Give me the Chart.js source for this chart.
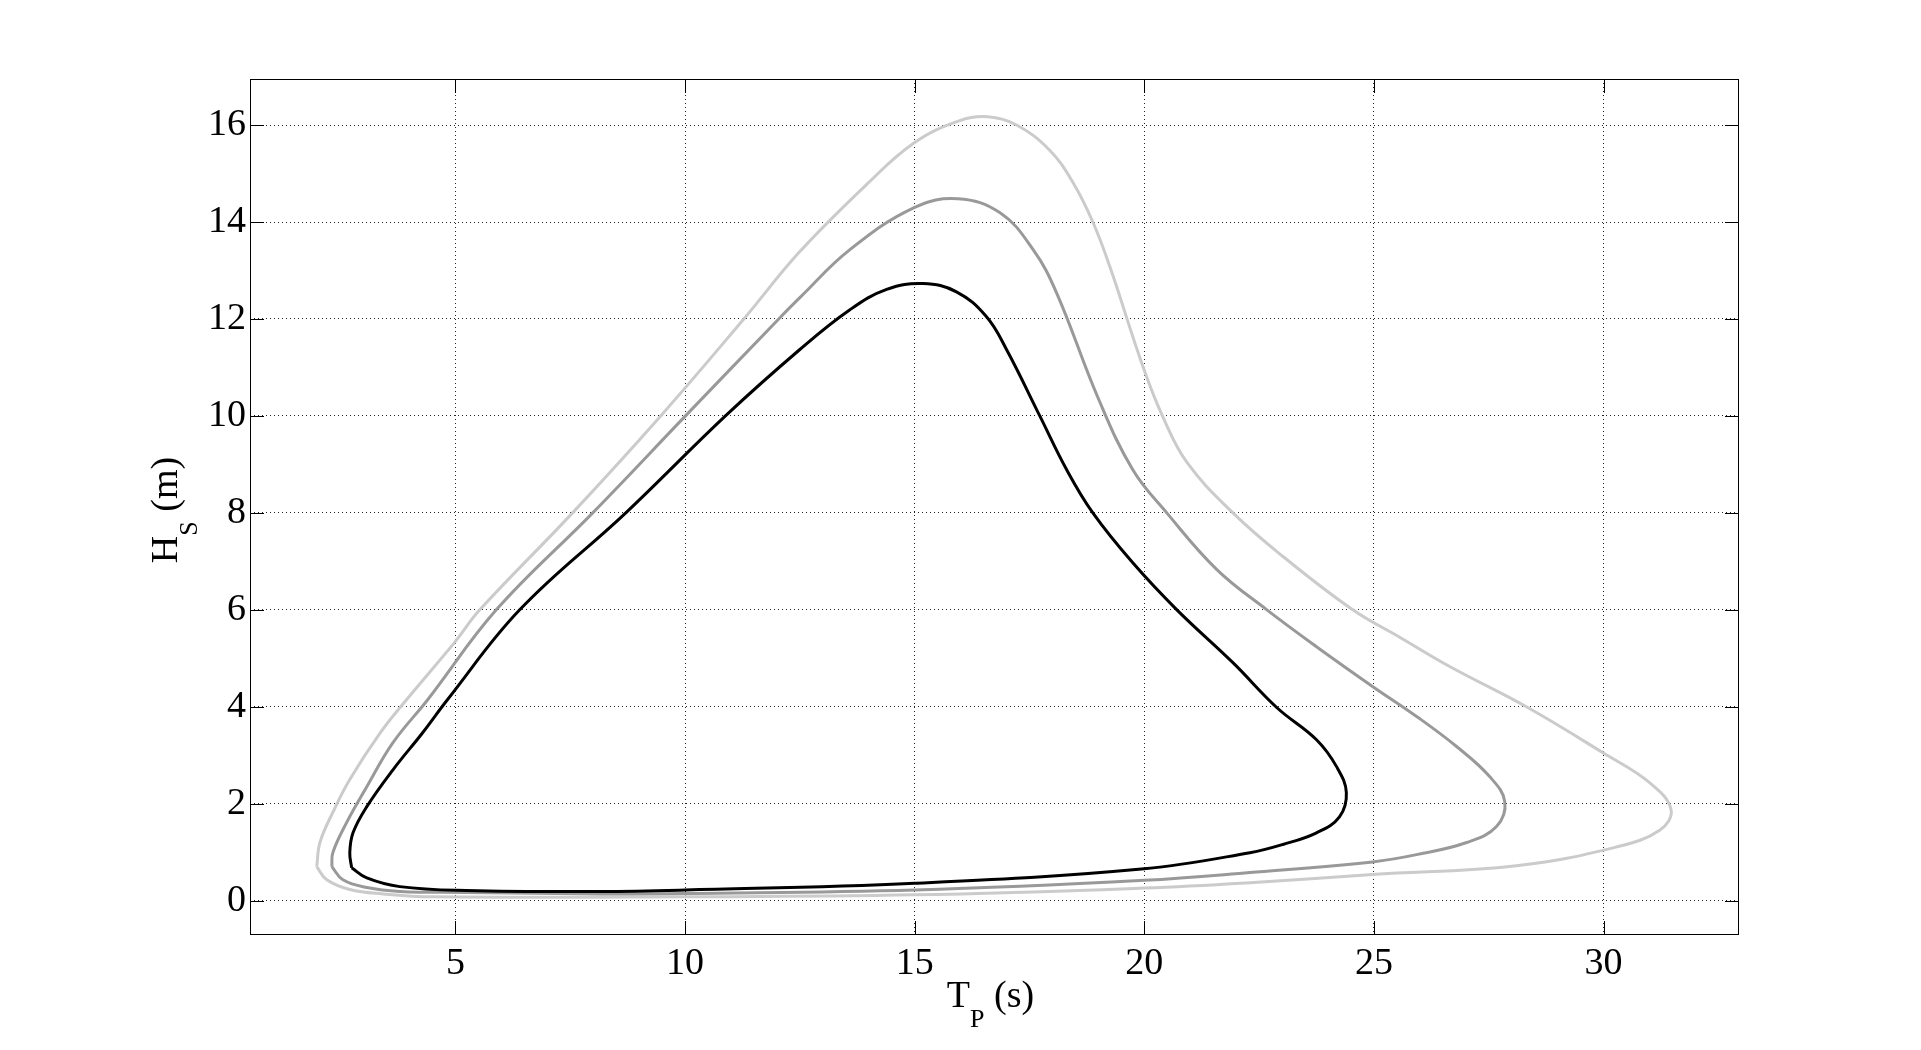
<!DOCTYPE html>
<html>
<head>
<meta charset="utf-8">
<title>Hs - Tp contours</title>
<script src="https://cdn.jsdelivr.net/npm/chart.js@4.4.0/dist/chart.umd.min.js"></script>
<style>
    html, body { margin: 0; padding: 0; background: #fff; overflow: hidden; }
    #wrap { position: relative; width: 1921px; height: 1050px; }
</style>
</head>
<body>
<div id="wrap"><canvas id="contourChart"></canvas></div>
<script>
// Tick labels
const xTicks = [5, 10, 15, 20, 25, 30];
const yTicks = [0, 2, 4, 6, 8, 10, 12, 14, 16];

// Inner contour (black)
const blackTp = [2.74, 2.70, 2.77, 3.07, 3.64, 4.29, 4.83, 6.40, 8.71, 10.88, 12.50, 13.59, 14.39, 15.18, 15.91, 16.56, 17.00, 17.73, 18.31, 18.88, 19.75, 20.71, 21.93, 22.89, 23.75, 24.19, 24.40, 24.25, 23.75, 23.02, 22.30, 20.00, 15.00, 10.00, 8.16, 5.24, 3.79, 3.07, 2.74];
const blackHs = [0.68, 0.99, 1.40, 1.94, 2.70, 3.47, 4.15, 6.00, 8.00, 10.00, 11.37, 12.19, 12.61, 12.73, 12.56, 12.05, 11.37, 9.99, 8.89, 8.00, 6.97, 6.00, 4.91, 3.98, 3.32, 2.76, 2.23, 1.73, 1.40, 1.16, 0.99, 0.66, 0.36, 0.22, 0.19, 0.21, 0.29, 0.47, 0.68];

// Middle contour (grey)
const midTp = [2.31, 2.33, 2.63, 3.07, 3.64, 4.40, 5.89, 7.99, 10.01, 12.04, 12.50, 13.59, 15.00, 15.94, 16.86, 17.58, 18.09, 18.99, 19.75, 20.49, 21.58, 22.67, 23.75, 24.97, 25.93, 26.80, 27.52, 27.85, 27.67, 27.02, 25.93, 24.97, 22.30, 20.00, 15.00, 10.00, 8.16, 5.24, 3.79, 3.07, 2.55, 2.31];
const midHs = [0.70, 0.99, 1.61, 2.35, 3.26, 4.15, 6.00, 8.00, 10.00, 12.00, 12.44, 13.43, 14.30, 14.48, 14.19, 13.43, 12.54, 10.38, 8.89, 8.00, 6.83, 6.00, 5.24, 4.42, 3.80, 3.18, 2.56, 2.04, 1.53, 1.20, 0.95, 0.80, 0.58, 0.42, 0.22, 0.15, 0.14, 0.17, 0.19, 0.27, 0.43, 0.70];

// Outer contour (light grey)
const lightTp = [1.98, 2.05, 2.33, 2.70, 3.37, 3.94, 5.00, 5.53, 7.55, 9.47, 11.28, 12.50, 13.96, 15.00, 15.98, 16.59, 17.22, 17.94, 18.45, 18.88, 19.25, 19.97, 20.40, 20.93, 21.93, 23.02, 24.54, 25.57, 26.65, 28.32, 29.99, 31.01, 31.47, 31.23, 30.29, 28.10, 24.97, 22.30, 20.00, 15.00, 10.00, 4.51, 3.42, 2.70, 2.20, 1.98];
const lightHs = [0.70, 1.20, 1.82, 2.50, 3.47, 4.15, 5.35, 6.00, 8.00, 10.00, 12.00, 13.39, 14.78, 15.64, 16.09, 16.17, 16.00, 15.48, 14.81, 14.00, 13.08, 11.02, 9.99, 9.04, 8.00, 7.10, 6.00, 5.43, 4.83, 4.00, 3.05, 2.43, 1.88, 1.46, 1.11, 0.72, 0.54, 0.37, 0.26, 0.12, 0.08, 0.08, 0.14, 0.23, 0.43, 0.70];

const toPoints = (tp, hs) => tp.map((t, i) => ({ x: t, y: hs[i] }));

const serif = '"Liberation Serif", "Times New Roman", serif';

const contour = (data, color) => ({
    data: data,
    showLine: true,
    borderColor: color,
    borderWidth: 3,
    pointRadius: 0,
    tension: 0.4,
    fill: false
});

// Draw text with a subscript: main + sub + rest, centered on 0
function drawSubText(ctx, main, sub, rest) {
    const big = '38px ' + serif;
    const small = '26px ' + serif;
    ctx.font = big;
    const w1 = ctx.measureText(main).width;
    const w3 = ctx.measureText(rest).width;
    ctx.font = small;
    const w2 = ctx.measureText(sub).width;
    let x = -(w1 + w2 + w3) / 2;
    ctx.textAlign = 'left';
    ctx.textBaseline = 'alphabetic';
    ctx.font = big;
    ctx.fillText(main, x, 0);
    x += w1;
    ctx.font = small;
    ctx.fillText(sub, x, 20);
    x += w2;
    ctx.font = big;
    ctx.fillText(rest, x, 0);
}

// Box around the axes, inward ticks on all four sides and axis titles
const matlabFrame = {
    id: 'matlabFrame',
    afterDraw(chart) {
        const { ctx, chartArea: a, scales: { x, y } } = chart;
        const tick = 14;
        ctx.save();
        ctx.strokeStyle = '#000';
        ctx.lineWidth = 1;
        ctx.strokeRect(a.left + 0.5, a.top + 0.5, a.right - a.left - 1, a.bottom - a.top - 1);

        ctx.beginPath();
        xTicks.forEach(v => {
            const px = Math.round(x.getPixelForValue(v)) + 0.5;
            ctx.moveTo(px, a.bottom);
            ctx.lineTo(px, a.bottom - tick);
            ctx.moveTo(px, a.top);
            ctx.lineTo(px, a.top + tick);
        });
        yTicks.forEach(v => {
            const py = Math.round(y.getPixelForValue(v)) + 0.5;
            ctx.moveTo(a.left, py);
            ctx.lineTo(a.left + tick, py);
            ctx.moveTo(a.right, py);
            ctx.lineTo(a.right - tick, py);
        });
        ctx.stroke();

        ctx.fillStyle = '#000';
        // x title
        ctx.save();
        ctx.translate((a.left + a.right) / 2 - 4, 1007);
        drawSubText(ctx, 'T', 'P', ' (s)');
        ctx.restore();
        // y title
        ctx.save();
        ctx.translate(177, (a.top + a.bottom) / 2 + 3);
        ctx.rotate(-Math.PI / 2);
        drawSubText(ctx, 'H', 'S', ' (m)');
        ctx.restore();

        ctx.restore();
    }
};

const ctx = document.getElementById('contourChart').getContext('2d');
const contourChart = new Chart(ctx, {
    type: 'scatter',
    data: {
        datasets: [
            contour(toPoints(blackTp, blackHs), '#000000'),
            contour(toPoints(midTp, midHs), '#999999'),
            contour(toPoints(lightTp, lightHs), '#cbcbcb')
        ]
    },
    options: {
        responsive: true,
        maintainAspectRatio: false,
        animation: false,
        layout: {
            padding: { left: 0, right: 182, top: 79, bottom: 0 }
        },
        plugins: {
            legend: { display: false },
            tooltip: { enabled: false }
        },
        scales: {
            x: {
                type: 'linear',
                min: 0.527,
                max: 32.95,
                afterBuildTicks: s => { s.ticks = xTicks.map(v => ({ value: v })); },
                afterFit: s => { s.height = 115; },
                grid: { color: '#222', lineWidth: 1, drawTicks: false },
                border: { display: false, dash: [1, 3] },
                ticks: {
                    font: { family: serif, size: 38 },
                    color: '#000',
                    padding: 6,
                    maxRotation: 0
                }
            },
            y: {
                type: 'linear',
                min: -0.708,
                max: 16.95,
                afterBuildTicks: s => { s.ticks = yTicks.map(v => ({ value: v })); },
                afterFit: s => { s.width = 250; },
                grid: { color: '#222', lineWidth: 1, drawTicks: false },
                border: { display: false, dash: [1, 3] },
                ticks: {
                    font: { family: serif, size: 38 },
                    color: '#000',
                    padding: 4
                }
            }
        }
    },
    plugins: [matlabFrame]
});
</script>
</body>
</html>
